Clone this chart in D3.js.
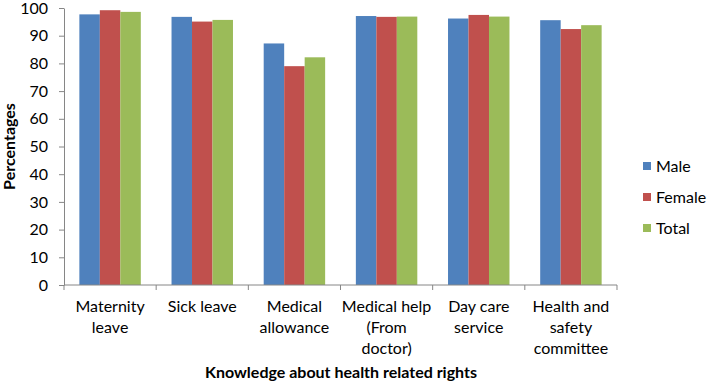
<!DOCTYPE html>
<html>
<head>
<meta charset="utf-8">
<script src="https://cdn.jsdelivr.net/npm/d3@7"></script>
<style>
  body { margin: 0; background: #fff; }
  text { font-family: Lato, "Open Sans", sans-serif; fill: #000; }
</style>
</head>
<body>
<div id="chart"></div>
<script>
// categories (multi-line labels)
var categories = [
    ['Maternity', 'leave'],
    ['Sick leave'],
    ['Medical', 'allowance'],
    ['Medical help', '(From', 'doctor)'],
    ['Day care', 'service'],
    ['Health and', 'safety', 'committee']
];
var series = ['Male', 'Female', 'Total'];
var male   = [97.7, 96.8, 87.2, 97.1, 96.2, 95.6];
var female = [99.2, 95.1, 79.0, 96.8, 97.5, 92.4];
var total  = [98.6, 95.7, 82.2, 96.9, 96.9, 93.8];
var yTicks = [0, 10, 20, 30, 40, 50, 60, 70, 80, 90, 100];
var colors = ['#4f81bd', '#c0504d', '#9bbb59'];

var width = 709, height = 383;
var pad_left = 64, pad_right = 617, pad_top = 8, pad_bottom = 285;
var font_size = '16px';

var svg = d3.select('#chart').append('svg')
    .attr('width', width)
    .attr('height', height);

var x = d3.scaleBand()
    .domain(d3.range(categories.length))
    .range([pad_left, pad_right])
    .paddingInner(0.3333)
    .paddingOuter(0.1667);

var xs = d3.scaleBand()
    .domain(series)
    .range([0, x.bandwidth()]);

var y = d3.scaleLinear()
    .domain([0, 100])
    .range([pad_bottom, pad_top]);

var values = [male, female, total];

// bars
series.forEach(function(s, j) {
    svg.append('g').selectAll('rect')
        .data(values[j])
        .enter()
        .append('rect')
        .attr('x', function(d, i) { return x(i) + xs(s); })
        .attr('y', function(d) { return y(d); })
        .attr('width', xs.bandwidth())
        .attr('height', function(d) { return y(0) - y(d); })
        .style('fill', colors[j]);
});

// y axis
var yAxis = svg.append('g')
    .attr('transform', 'translate(' + pad_left + ',0)')
    .call(d3.axisLeft(y).tickValues(yTicks).tickSize(5).tickPadding(11).tickSizeOuter(0));
yAxis.select('.domain').style('stroke', '#868686');
yAxis.selectAll('.tick line').style('stroke', '#868686');
yAxis.selectAll('text').style('font-size', font_size).style('font-family', null);

// x axis with ticks at category boundaries
var step = x.step();
var xAxis = svg.append('g')
    .attr('transform', 'translate(0,' + pad_bottom + ')');
xAxis.append('line')
    .attr('x1', pad_left).attr('x2', pad_right)
    .style('stroke', '#868686');
xAxis.selectAll('.xtick')
    .data(d3.range(categories.length + 1))
    .enter()
    .append('line')
    .attr('x1', function(i) { return pad_left + i * step; })
    .attr('x2', function(i) { return pad_left + i * step; })
    .attr('y1', 0).attr('y2', 5)
    .style('stroke', '#868686');

var labels = xAxis.selectAll('.xlabel')
    .data(categories)
    .enter()
    .append('text')
    .attr('text-anchor', 'middle')
    .style('font-size', font_size)
    .attr('transform', function(d, i) { return 'translate(' + (x(i) + x.bandwidth() / 2) + ',0)'; });
labels.selectAll('tspan')
    .data(function(d) { return d; })
    .enter()
    .append('tspan')
    .attr('x', 0)
    .attr('y', function(d, k) { return 27 + k * 21; })
    .text(function(d) { return d; });

// axis titles
svg.append('text')
    .attr('transform', 'translate(15,' + ((pad_top + pad_bottom) / 2) + ') rotate(-90)')
    .attr('text-anchor', 'middle')
    .style('font-size', font_size)
    .style('font-weight', 'bold')
    .text('Percentages');

svg.append('text')
    .attr('x', 341)
    .attr('y', 378)
    .attr('text-anchor', 'middle')
    .style('font-size', font_size)
    .style('font-weight', 'bold')
    .text('Knowledge about health related rights');

// legend
var legend = svg.append('g')
    .attr('transform', 'translate(643,166)');
var item = legend.selectAll('g')
    .data(series)
    .enter()
    .append('g')
    .attr('transform', function(d, i) { return 'translate(0,' + i * 31 + ')'; });
item.append('rect')
    .attr('x', 0).attr('y', -4)
    .attr('width', 8).attr('height', 8)
    .style('fill', function(d, i) { return colors[i]; });
item.append('text')
    .attr('x', 13)
    .attr('y', 6)
    .style('font-size', font_size)
    .text(function(d) { return d; });
</script>
</body>
</html>
